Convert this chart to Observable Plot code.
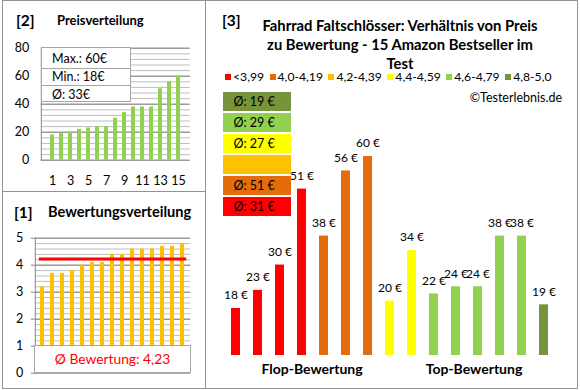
<!DOCTYPE html>
<html><head><meta charset="utf-8">
<script src="https://cdn.jsdelivr.net/npm/d3@7"></script>
<script src="https://cdn.jsdelivr.net/npm/@observablehq/plot@0.6"></script>
<style>
body{margin:0;background:#fff;font-family:Lato,"Open Sans",sans-serif;color:#000;}
#root{position:relative;width:580px;height:390px;overflow:hidden;background:#fff;}
.abs{position:absolute;white-space:nowrap;}
.frame{position:absolute;border:1px solid #939393;box-sizing:border-box;}
.h{font-weight:bold;font-size:13px;line-height:20px;}
.n{font-weight:bold;font-size:15.5px;line-height:20px;}
svg{position:absolute;overflow:visible;}
</style></head><body><div id="root"></div>
<script>
// ---- data ----
const ranks = [1,2,3,4,5,6,7,8,9,10,11,12,13,14,15];
const rankTicks = [1,3,5,7,9,11,13,15];
const pricesSorted = [18,19,20,22,23,24,24,30,34,38,38,38,51,56,60];
const ratingsSorted = [3.2,3.7,3.7,3.8,4.0,4.1,4.1,4.4,4.4,4.6,4.6,4.6,4.7,4.7,4.8];
const barPrices = [18,23,30,51,38,56,60,20,34,22,24,24,38,38,19];
const barClasses = ["<3,99","<3,99","<3,99","<3,99","4,0-4,19","4,0-4,19","4,0-4,19","4,4-4,59","4,4-4,59","4,6-4,79","4,6-4,79","4,6-4,79","4,6-4,79","4,6-4,79","4,8-5,0"];
const ratingClasses = ["<3,99","4,0-4,19","4,2-4,39","4,4-4,59","4,6-4,79","4,8-5,0"];
const classColors = ["#FF0000","#E46C0A","#FFC000","#FFFF00","#92D050","#77933C"];
const priceTicks = [0,20,40,60,80];
const ratingTicks = [0,1,2,3,4,5];
const groupLabels = ["Flop-Bewertung","Top-Bewertung"];

const root = document.getElementById("root");
const font = "Lato, 'Open Sans', sans-serif";
function add(html, css, cls){const d=document.createElement("div");d.className="abs "+(cls||"");d.innerHTML=html;Object.assign(d.style,css);root.appendChild(d);return d;}
function place(svg,left,top){svg.style.left=left+"px";svg.style.top=top+"px";root.appendChild(svg);}

// ---- frames ----
add("",{left:"2px",top:"0px",width:"204px",height:"192px"},"frame");
add("",{left:"2px",top:"191px",width:"204px",height:"198px"},"frame");
add("",{left:"205px",top:"0px",width:"373px",height:"389px"},"frame");

// ---- panel [2] Preisverteilung ----
const pd = ranks.map((r,i)=>({r, v:pricesSorted[i]}));
const p2 = Plot.plot({
  width:205, height:190, marginLeft:40.8, marginRight:15.2, marginTop:47.7, marginBottom:30.3,
  style:{fontFamily:font, fontSize:"12.5px", color:"#000", background:"transparent", overflow:"visible"},
  x:{type:"band", domain:ranks, paddingInner:0.56, paddingOuter:0.28, axis:null},
  y:{domain:[0,80], axis:null},
  marks:[
    Plot.gridY(d3.range(0,81,4), {stroke:"#BFBFBF", strokeOpacity:1}),
    Plot.gridY(priceTicks, {stroke:"#868686", strokeOpacity:1}),
    Plot.frame({anchor:"left", stroke:"#868686"}),
    Plot.barY(pd, {x:"r", y:"v", fill:"#92D050"}),
    Plot.axisY(priceTicks, {tickSize:0, tickPadding:12, fontSize:12.5, label:null}),
    Plot.axisX(rankTicks, {tickSize:0, tickPadding:16, fontSize:12.5, label:null})
  ]
});
place(p2,0,0);
add("[2]",{left:"16px",top:"10px"},"n");
add("Preisverteilung",{left:"57px",top:"10px"},"h");
add(`<div style="height:20px;line-height:21px;border-bottom:1px solid #A6A6A6;padding-left:10px">Max.: ${d3.max(pricesSorted)}€</div>
<div style="height:16px;line-height:16px;border-bottom:1px solid #A6A6A6;padding-left:10px">Min.: ${d3.min(pricesSorted)}€</div>
<div style="height:17px;line-height:17px;padding-left:10px">Ø: ${Math.round(d3.mean(pricesSorted))}€</div>`,
 {left:"41px",top:"47px",width:"90px",height:"55px",background:"#fff",border:"1px solid #A6A6A6",boxSizing:"border-box",fontSize:"12.5px"});

// ---- panel [1] Bewertungsverteilung ----
const rd = ranks.map((r,i)=>({r, v:ratingsSorted[i]}));
const avgR = d3.mean(ratingsSorted);
const p1 = Plot.plot({
  width:205, height:197, marginLeft:34.8, marginRight:14.8, marginTop:46.7, marginBottom:15.3,
  style:{fontFamily:font, fontSize:"12.5px", color:"#000", background:"transparent", overflow:"visible"},
  x:{type:"band", domain:ranks, paddingInner:0.56, paddingOuter:0.28, axis:null},
  y:{domain:[0,5], axis:null},
  marks:[
    Plot.gridY(d3.range(1,5.01,0.2).map(v=>+v.toFixed(1)), {stroke:"#BFBFBF", strokeOpacity:1}),
    Plot.gridY(ratingTicks, {stroke:"#868686", strokeOpacity:1}),
    Plot.frame({anchor:"left", stroke:"#868686"}),
    Plot.barY(rd, {x:"r", y:"v", fill:"#FFC000"}),
    Plot.ruleY([avgR], {stroke:"#FF0000", strokeWidth:3, insetLeft:4, insetRight:4}),
    Plot.axisY(ratingTicks, {tickSize:4, tickPadding:8, stroke:"#868686", fontSize:12.5, label:null})
  ]
});
place(p1,0,191);
add("[1]",{left:"14px",top:"201.5px"},"n");
add("Bewertungsverteilung",{left:"48px",top:"201.5px",fontSize:"14.6px"},"h");
add(`Ø Bewertung: ${avgR.toFixed(2).replace(".",",")}`,
 {left:"34px",top:"345px",width:"157px",height:"28px",lineHeight:"26px",textAlign:"center",background:"#fff",border:"1px solid #A6A6A6",boxSizing:"border-box",color:"#FF0000",fontSize:"13.8px"});

// ---- panel [3] ----
const bd = ranks.map((r,i)=>({r, v:barPrices[i], c:barClasses[i]}));
const p3 = Plot.plot({
  width:373, height:388, marginLeft:16.3, marginRight:20.3, marginTop:137.9, marginBottom:33,
  style:{fontFamily:font, fontSize:"12px", color:"#000", background:"transparent", overflow:"visible"},
  x:{type:"band", domain:ranks, paddingInner:0.6, paddingOuter:0.3, axis:null},
  y:{domain:[5,65], clamp:true, axis:null},
  color:{domain:ratingClasses, range:classColors},
  marks:[
    Plot.barY(bd, {x:"r", y1:5, y2:"v", fill:"c"}),
    Plot.text(bd, {x:"r", y:"v", text:d=>`${d.v} €`, dy:-13, fontSize:12})
  ]
});
place(p3,205,0);
add("[3]",{left:"222px",top:"10px"},"n");
add("Fahrrad Faltschlösser: Verhältnis von Preis<br>zu Bewertung - 15 Amazon Bestseller im<br>Test",
 {left:"230px",top:"15.5px",width:"340px",textAlign:"center",fontWeight:"bold",fontSize:"14.8px",lineHeight:"19px"});
add(ratingClasses.map((c,i)=>`<span style="display:inline-block;width:6px;height:6px;background:${classColors[i]};margin-right:2px;vertical-align:1px"></span><span style="margin-right:5.5px">${c}</span>`).join(""),
 {left:"225px",top:"72px",fontSize:"12.2px",lineHeight:"10px"});
add("©Testerlebnis.de",{right:"18px",top:"91px",fontSize:"12.5px",lineHeight:"14px"});
add(groupLabels[0],{left:"257px",top:"360px",width:"110px",textAlign:"center",fontWeight:"bold",fontSize:"14px",lineHeight:"18px"});
add(groupLabels[1],{left:"419px",top:"360px",width:"110px",textAlign:"center",fontWeight:"bold",fontSize:"14px",lineHeight:"18px"});

// average boxes
const order = ratingClasses.slice().reverse();
const ad = order.map(c=>{const vals=barPrices.filter((v,i)=>barClasses[i]===c); return {c, avg: vals.length? Math.round(d3.mean(vals)) : null};});
const pa = Plot.plot({
  width:68, height:127.5, margin:0,
  style:{fontFamily:font, fontSize:"12.5px", color:"#000", background:"transparent", overflow:"visible"},
  x:{domain:[0,1], axis:null},
  y:{type:"band", domain:order, padding:0.1, paddingOuter:0.05, axis:null},
  color:{domain:ratingClasses, range:classColors},
  marks:[
    Plot.barX(ad, {x1:0, x2:1, y:"c", fill:"c"}),
    Plot.text(ad.filter(d=>d.avg!=null), {x:0, y:"c", text:d=>`Ø: ${d.avg} €`, dx:10, textAnchor:"start", fontSize:12.5})
  ]
});
place(pa,222.7,90);
</script></body></html>
